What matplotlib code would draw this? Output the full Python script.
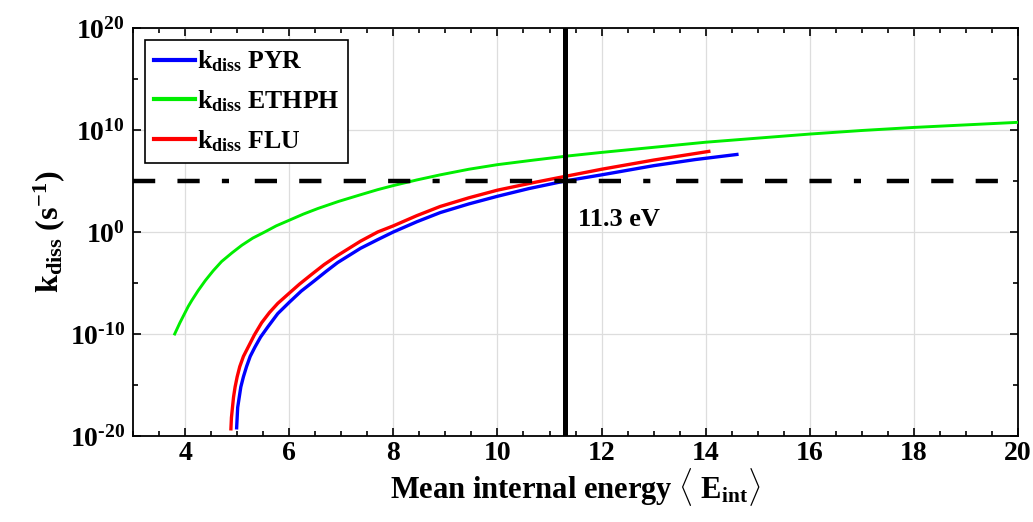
import numpy as np
import matplotlib
matplotlib.use("Agg")
import matplotlib.pyplot as plt
from matplotlib.ticker import FixedLocator, FuncFormatter, MultipleLocator

plt.rcParams['font.family'] = ['Liberation Serif', 'DejaVu Serif']
plt.rcParams['font.weight'] = 'bold'
plt.rcParams['mathtext.fontset'] = 'custom'
plt.rcParams['mathtext.rm'] = 'Liberation Serif:bold'
plt.rcParams['mathtext.bf'] = 'Liberation Serif:bold'
plt.rcParams['mathtext.it'] = 'Liberation Serif:bold'

# values (y given as log10 of k_diss, s^-1)
pyr_e = [4.99, 5.0, 5.01, 5.04, 5.07, 5.12, 5.18, 5.25, 5.34, 5.45, 5.59, 5.78, 6.0,
         6.23, 6.48, 6.7, 6.93, 7.15, 7.37, 7.7, 8.0, 8.45, 8.9, 9.45, 10.0, 10.6,
         11.3, 12.0, 12.5, 13.0, 13.8, 14.6]
pyr_logk = [-19.2, -18.2, -17.2, -16.2, -15.2, -14.2, -13.2, -12.2, -11.3, -10.3, -9.3, -8.0, -6.9,
            -5.8, -4.8, -3.9, -3.0, -2.3, -1.6, -0.75, 0.0, 1.0, 1.9, 2.75, 3.5, 4.25,
            5.0, 5.6, 6.05, 6.5, 7.1, 7.6]

ethph_e = [3.8, 3.85, 3.9, 3.95, 4.0, 4.06, 4.13, 4.25, 4.39, 4.54, 4.7, 4.9, 5.09,
           5.3, 5.53, 5.75, 6.0, 6.27, 6.55, 6.95, 7.37, 7.7, 8.0, 8.45, 8.9, 9.45,
           10.0, 10.7, 11.35, 12.0, 13.0, 14.0, 15.0, 16.0, 17.0, 18.0, 19.0, 20.0]
ethph_logk = [-10.0, -9.45, -8.9, -8.4, -7.9, -7.3, -6.7, -5.75, -4.75, -3.8, -2.9, -2.05, -1.3,
              -0.6, 0.0, 0.6, 1.15, 1.75, 2.3, 3.0, 3.65, 4.15, 4.55, 5.1, 5.6, 6.15,
              6.6, 7.05, 7.45, 7.8, 8.3, 8.8, 9.2, 9.6, 9.95, 10.25, 10.5, 10.75]

flu_e = [4.88, 4.89, 4.91, 4.93, 4.96, 5.0, 5.05, 5.12, 5.21, 5.33, 5.47, 5.62, 5.78,
         6.0, 6.2, 6.42, 6.67, 6.93, 7.15, 7.37, 7.7, 8.0, 8.45, 8.9, 9.45, 10.0,
         10.7, 11.35, 12.0, 12.5, 13.0, 13.5, 14.06]
flu_logk = [-19.3, -18.2, -17.2, -16.2, -15.2, -14.2, -13.2, -12.2, -11.3, -10.1, -8.9, -7.9, -7.0,
            -6.0, -5.1, -4.2, -3.2, -2.3, -1.6, -0.9, 0.0, 0.6, 1.6, 2.5, 3.35, 4.1,
            4.85, 5.5, 6.15, 6.6, 7.05, 7.45, 7.9]

k_threshold = 1e5
e_threshold = 11.3

fig = plt.figure(figsize=(10.33, 5.22), dpi=100)
ax = fig.add_axes([0.1288, 0.1648, 0.8567, 0.7816])

ax.plot(pyr_e, 10.0 ** np.array(pyr_logk), color='#0000ff', lw=2.4,
        label=r'$\mathbf{k_{diss}}$ PYR', zorder=3)
ax.plot(ethph_e, 10.0 ** np.array(ethph_logk), color='#00ee00', lw=2.1,
        label=r'$\mathbf{k_{diss}}$ ETHPH', zorder=3)
ax.plot(flu_e, 10.0 ** np.array(flu_logk), color='#ff0000', lw=2.4,
        label=r'$\mathbf{k_{diss}}$ FLU', zorder=3)

# threshold lines
ax.axhline(k_threshold, color='black', lw=3.2,
           ls=(20, (5.0, 5.0, 5.0, 5.0, 5.0, 5.0, 5.0, 5.0, 1.6, 5.8)), zorder=4)
ax.axvline(e_threshold, color='black', lw=3.6, zorder=5)
ax.text(11.55, 10 ** 1.2, '11.3 eV', fontsize=19, fontweight='bold',
        ha='left', va='center')

ax.set_yscale('log')
ax.set_xlim(3, 20)
ax.set_ylim(1e-20, 1e20)


def pow10_label(v, pos):
    p = int(round(np.log10(v)))
    s = str(abs(p)) if p >= 0 else '\u2010' + str(abs(p))
    return r'$\mathbf{10^{%s}}$' % s


ax.yaxis.set_major_locator(FixedLocator([10.0 ** p for p in range(-20, 21, 10)]))
ax.yaxis.set_minor_locator(FixedLocator([10.0 ** p for p in (-15, -5, 5, 15)]))
ax.yaxis.set_major_formatter(FuncFormatter(pow10_label))
ax.yaxis.set_minor_formatter(FuncFormatter(lambda v, pos: ''))
ax.xaxis.set_major_locator(MultipleLocator(2))
ax.xaxis.set_minor_locator(MultipleLocator(0.5))

ax.tick_params(which='both', direction='in', top=True, right=True,
               labelsize=20, width=1.2)
ax.tick_params(which='major', length=6)
ax.tick_params(which='minor', length=3.5)
ax.tick_params(axis='y', pad=6)
for lab in ax.get_xticklabels():
    lab.set_fontweight('bold')
for s in ax.spines.values():
    s.set_linewidth(1.3)

ax.grid(True, which='major', color='#dddddd', lw=0.9)
ax.set_axisbelow(True)

ax.set_xlabel(r'Mean internal energy $\langle$ $\mathbf{E_{int}}\rangle$',
              fontsize=22, fontweight='bold', labelpad=0)
ax.set_ylabel(r'$\mathbf{k_{diss}}$ $\mathbf{(s^{-1})}$',
              fontsize=23, fontweight='bold', labelpad=2)

leg = ax.legend(loc='upper left', fontsize=18.5, handlelength=1.6,
                handletextpad=0.08, borderpad=0.35, labelspacing=0.55,
                fancybox=False, framealpha=1, edgecolor='black',
                borderaxespad=0.45)
leg.get_frame().set_linewidth(1.2)
for line in leg.get_lines():
    line.set_linewidth(3.0)

fig.savefig('out.png', dpi=100)
